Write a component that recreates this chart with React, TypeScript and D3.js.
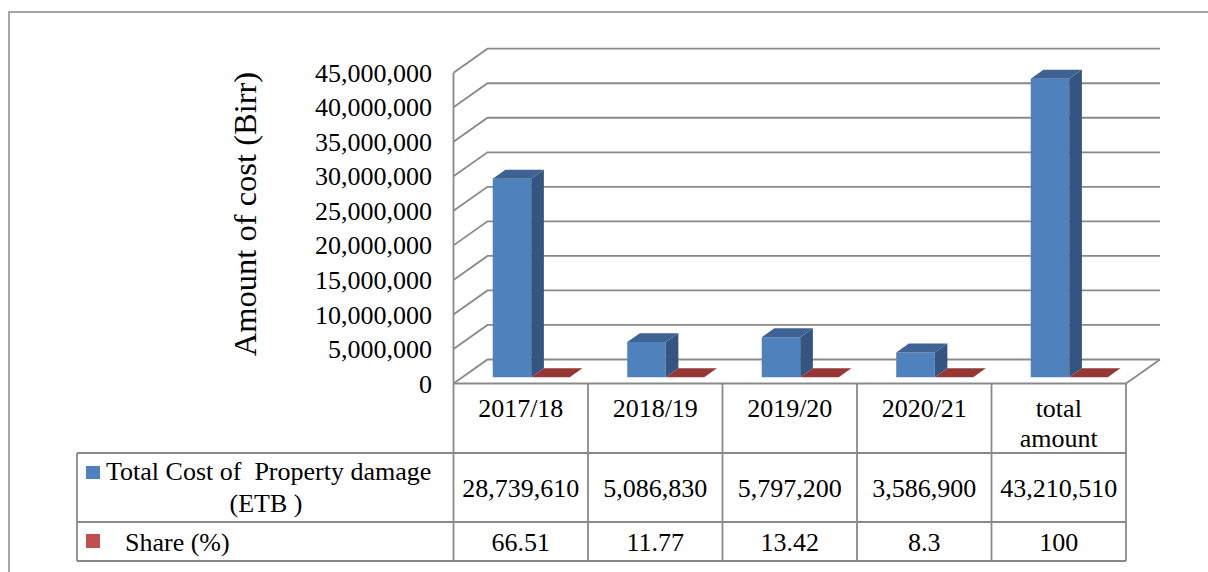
import React from "react";
import * as d3 from "d3";

const categories = ["2017/18", "2018/19", "2019/20", "2020/21", "total amount"];
const categoryLines = [["2017/18"], ["2018/19"], ["2019/20"], ["2020/21"], ["total", "amount"]];
const costValues = [28739610, 5086830, 5797200, 3586900, 43210510];
const shareValues = [66.51, 11.77, 13.42, 8.3, 100];
const yTicks = [0, 5000000, 10000000, 15000000, 20000000, 25000000, 30000000, 35000000, 40000000, 45000000];
const seriesCostLines = ["Total Cost of  Property damage", "(ETB )"];
const seriesShareName = "Share (%)";
const yTitle = "Amount of cost (Birr)";

const FONT = "'Liberation Serif', 'Times New Roman', serif";
const GRID = "#898989";

const keepSpaces = (s: string) => s.replace(/ {2}/g, " \u00A0");

export default function App() {
  const frontLeft = 453.5;
  const frontRight = 1126;
  const floorY = 383.5;
  const ddx = 34;
  const ddy = 24;
  const x = d3.scaleBand<string>().domain(categories).range([frontLeft, frontRight]).padding(0);
  const y = d3.scaleLinear().domain([0, 45000000]).range([0, 310.8]);
  const proj = (px: number, v: number, z: number): [number, number] => [px + z * ddx, floorY - y(v) - z * ddy];
  const poly = (pts: [number, number][]) => pts.map((p) => p.join(",")).join(" ");

  const z1 = 0.2625;
  const z2 = 0.635;
  const barW = 38.5;
  const barOff = 30.3;

  const bar = (x0: number, v: number, cols: { front: string; side: string; top: string }, key: string) => {
    const x1 = x0 + barW;
    return (
      <g key={key}>
        <polygon points={poly([proj(x0, 0, z1), proj(x1, 0, z1), proj(x1, v, z1), proj(x0, v, z1)])} fill={cols.front} />
        <polygon points={poly([proj(x1, 0, z1), proj(x1, 0, z2), proj(x1, v, z2), proj(x1, v, z1)])} fill={cols.side} />
        <polygon points={poly([proj(x0, v, z1), proj(x1, v, z1), proj(x1, v, z2), proj(x0, v, z2)])} fill={cols.top} />
      </g>
    );
  };

  const blue = { front: "#4F81BD", side: "#34557F", top: "#3D6293" };
  const red = { front: "#C0504D", side: "#8C3836", top: "#953735" };

  const tableTop = floorY;
  const row1Top = 453;
  const row2Top = 522;
  const tableBottom = 561;
  const tableLeft = 77;
  const fmt = d3.format(",");

  return (
    <svg
      width={1208}
      height={572}
      style={{ position: "absolute", left: 0, top: 0, background: "#fff" }}
      fontFamily={FONT}
    >
      <rect x={0} y={0} width={1208} height={572} fill="#fff" />
      {/* outer chart border */}
      <rect x={9} y={12} width={1400} height={800} fill="none" stroke={GRID} strokeWidth={1.5} />

      {/* gridlines with side wall */}
      {yTicks.map((t) => {
        const [fx, fy] = proj(frontLeft, t, 0);
        const [bx, by] = proj(frontLeft, t, 1);
        const [ex] = proj(frontRight, t, 1);
        return (
          <polyline
            key={"g" + t}
            points={poly([[fx, fy], [bx, by], [ex, by]])}
            fill="none"
            stroke={GRID}
            strokeWidth={1.8}
          />
        );
      })}
      {/* left front axis edge */}
      <line x1={frontLeft} x2={frontLeft} y1={proj(frontLeft, 45000000, 0)[1]} y2={floorY} stroke={GRID} strokeWidth={1.8} />
      {/* floor right diagonal */}
      <line
        x1={frontRight}
        y1={floorY}
        x2={proj(frontRight, 0, 1)[0]}
        y2={proj(frontRight, 0, 1)[1]}
        stroke={GRID}
        strokeWidth={1.8}
      />

      {/* bars */}
      {categories.map((c, i) => {
        const bx0 = (x(c) as number) + barOff;
        return (
          <g key={"b" + c}>
            {bar(bx0 + barW, shareValues[i], red, "r")}
            {bar(bx0, costValues[i], blue, "b")}
          </g>
        );
      })}

      {/* y tick labels */}
      {yTicks.map((t) => (
        <text
          key={"t" + t}
          x={432}
          y={proj(frontLeft, t, 0)[1]}
          dy="0.35em"
          textAnchor="end"
          fontSize={26}
          fill="#000"
        >
          {d3.format(",")(t)}
        </text>
      ))}

      {/* y title */}
      <text
        transform={`translate(256,214) rotate(-90)`}
        textAnchor="middle"
        fontSize={32.5}
        fill="#000"
      >
        {yTitle}
      </text>

      {/* data table lines */}
      <g stroke={GRID} strokeWidth={1.8}>
        <line x1={frontLeft} x2={frontRight} y1={tableTop} y2={tableTop} />
        <line x1={tableLeft} x2={frontRight} y1={row1Top} y2={row1Top} />
        <line x1={tableLeft} x2={frontRight} y1={row2Top} y2={row2Top} />
        <line x1={tableLeft} x2={frontRight} y1={tableBottom} y2={tableBottom} />
        <line x1={tableLeft} x2={tableLeft} y1={row1Top} y2={tableBottom} />
        {categories.map((c) => (
          <line key={"v" + c} x1={x(c)} x2={x(c)} y1={tableTop} y2={tableBottom} />
        ))}
        <line x1={frontRight} x2={frontRight} y1={tableTop} y2={tableBottom} />
      </g>

      {/* category labels */}
      {categories.map((c, i) => {
        const cx = (x(c) as number) + x.bandwidth() / 2;
        return (
          <text key={"c" + c} x={cx} textAnchor="middle" fontSize={26} fill="#000">
            {categoryLines[i].map((ln, j) => (
              <tspan key={j} x={cx} y={408 + j * 30} dy="0.35em">
                {ln}
              </tspan>
            ))}
          </text>
        );
      })}

      {/* row 1: cost */}
      <rect x={86} y={466} width={14} height={13} fill="#4F81BD" />
      <text x={106} y={471} dy="0.35em" fontSize={26} fill="#000">
        {keepSpaces(seriesCostLines[0])}
      </text>
      <text x={266} y={503} dy="0.35em" fontSize={26} fill="#000" textAnchor="middle">
        {keepSpaces(seriesCostLines[1])}
      </text>
      {categories.map((c, i) => (
        <text
          key={"v1" + c}
          x={(x(c) as number) + x.bandwidth() / 2}
          y={(row1Top + row2Top) / 2}
          dy="0.35em"
          textAnchor="middle"
          fontSize={26}
          fill="#000"
        >
          {fmt(costValues[i])}
        </text>
      ))}

      {/* row 2: share */}
      <rect x={86} y={534} width={14} height={14} fill="#C0504D" />
      <text x={125} y={541.5} dy="0.35em" fontSize={26} fill="#000">
        {seriesShareName}
      </text>
      {categories.map((c, i) => (
        <text
          key={"v2" + c}
          x={(x(c) as number) + x.bandwidth() / 2}
          y={(row2Top + tableBottom) / 2}
          dy="0.35em"
          textAnchor="middle"
          fontSize={26}
          fill="#000"
        >
          {String(shareValues[i])}
        </text>
      ))}
    </svg>
  );
}
